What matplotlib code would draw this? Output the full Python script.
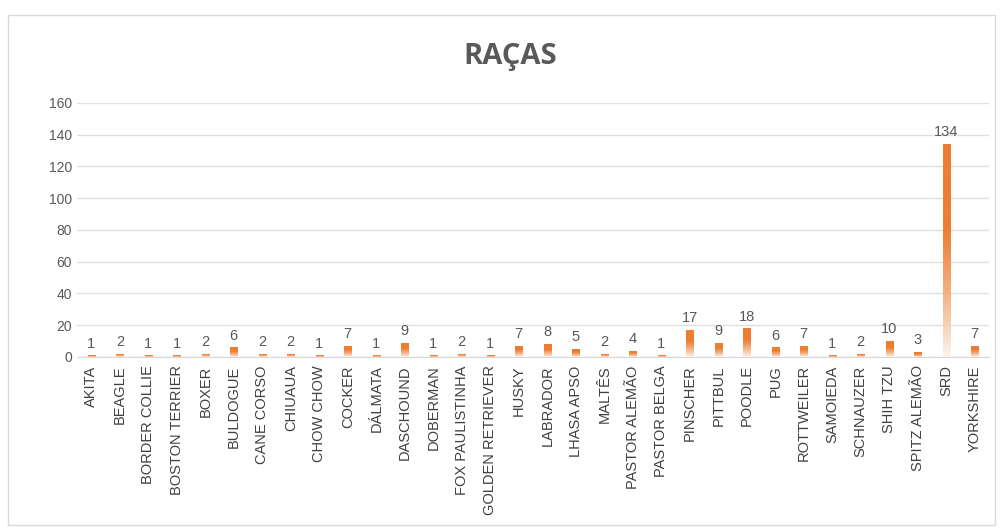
import matplotlib
matplotlib.use("Agg")
import matplotlib.pyplot as plt
from matplotlib.patches import Rectangle
from matplotlib.colors import LinearSegmentedColormap
import numpy as np

racas = ["AKITA", "BEAGLE", "BORDER COLLIE", "BOSTON TERRIER", "BOXER", "BULDOGUE",
         "CANE CORSO", "CHIUAUA", "CHOW CHOW", "COCKER", "DÁLMATA", "DASCHOUND",
         "DOBERMAN", "FOX PAULISTINHA", "GOLDEN RETRIEVER", "HUSKY", "LABRADOR",
         "LHASA APSO", "MALTÊS", "PASTOR ALEMÃO", "PASTOR BELGA", "PINSCHER",
         "PITTBUL", "POODLE", "PUG", "ROTTWEILER", "SAMOIEDA", "SCHNAUZER",
         "SHIH TZU", "SPITZ ALEMÃO", "SRD", "YORKSHIRE"]
quantidade = [1, 2, 1, 1, 2, 6, 2, 2, 1, 7, 1, 9, 1, 2, 1, 7, 8, 5, 2, 4, 1, 17,
              9, 18, 6, 7, 1, 2, 10, 3, 134, 7]

plt.rcParams['font.family'] = ['Liberation Sans Narrow', 'Liberation Sans', 'DejaVu Sans']

fig = plt.figure(figsize=(10.01, 5.28), dpi=100)
# moldura do gráfico
fig.patches.append(Rectangle((0.008, 0.006), 0.986, 0.966, transform=fig.transFigure,
                             fill=False, edgecolor="#d9d9d9", linewidth=1.0))

ax = fig.add_axes([0.077, 0.324, 0.911, 0.481])
x = np.arange(len(racas))
largura = 0.26

# degradê laranja -> branco de cima para baixo em cada barra
cmap = LinearSegmentedColormap.from_list(
    "laranja", [(0.0, "#fdf3ec"), (0.3, "#f4b183"), (0.6, "#ed7d31"), (1.0, "#ed7d31")])
grad = np.linspace(0, 1, 256).reshape(-1, 1)

barras = ax.bar(x, quantidade, width=largura, color="none", edgecolor="none", zorder=2)
for b in barras:
    x0, y0 = b.get_x(), b.get_y()
    w, h = b.get_width(), b.get_height()
    im = ax.imshow(grad, cmap=cmap, aspect="auto", origin="lower",
                   extent=[x0, x0 + w, y0, y0 + h], zorder=2)
    im.set_clip_path(b)

for xi, v in zip(x, quantidade):
    ax.text(xi, v + 3, str(v), ha="center", va="bottom", fontsize=10.5,
            color="#595959", family=["Liberation Sans", "DejaVu Sans"])

ax.set_xlim(-0.5, len(racas) - 0.5)
ax.set_ylim(0, 160)
ax.set_yticks(range(0, 161, 20))
ax.set_xticks(x)
ax.set_xticklabels(racas, rotation=90, fontsize=10.5, color="#404040")
ax.tick_params(axis="y", labelsize=10, labelcolor="#595959", length=0)
ax.tick_params(axis="x", length=0, pad=6)
for lbl in ax.get_yticklabels():
    lbl.set_family(["Liberation Sans", "DejaVu Sans"])
ax.grid(axis="y", color="#e0e0e0", linewidth=1.0, zorder=0)
ax.set_axisbelow(True)
for lado in ["top", "right", "left"]:
    ax.spines[lado].set_visible(False)
ax.spines["bottom"].set_color("#d9d9d9")

fig.text(0.51, 0.893, "RAÇAS", ha="center", va="center", fontsize=21,
         fontweight="bold", color="#595959", family=["Open Sans", "DejaVu Sans"])

fig.savefig("out.png", dpi=100)
